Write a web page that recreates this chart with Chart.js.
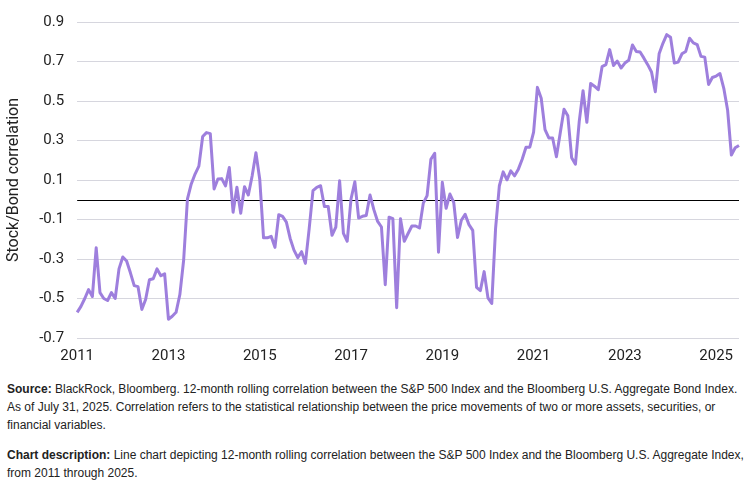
<!DOCTYPE html>
<html>
<head>
<meta charset="utf-8">
<script src="https://cdn.jsdelivr.net/npm/chart.js@4"></script>
<style>
  body { margin: 0; background: #fff; width: 756px; height: 504px; overflow: hidden; position: relative; }
  #wrap { position: absolute; left: 0; top: 0; width: 756px; height: 366px; }
  .note { position: absolute; left: 7px; width: 745px; font-family: "Liberation Sans", Arial, sans-serif;
          font-size: 12px; line-height: 18px; color: #222; white-space: nowrap; }
  .note b { font-weight: bold; }
</style>
</head>
<body>
<div id="wrap"><canvas id="myChart"></canvas></div>
<div class="note" style="top:380px"><b>Source:</b> BlackRock, Bloomberg. 12-month rolling correlation between the S&amp;P 500 Index and the Bloomberg U.S. Aggregate Bond Index.<br>As of July 31, 2025. Correlation refers to the statistical relationship between the price movements of two or more assets, securities, or<br>financial variables.</div>
<div class="note" style="top:446px"><b>Chart description:</b> Line chart depicting 12-month rolling correlation between the S&amp;P 500 Index and the Bloomberg U.S. Aggregate Index,<br>from 2011 through 2025.</div>
<script>
// monthly, Jan 2011 .. Jul 2025
const startYear = 2011;
const monthCount = 175;
const tickLabels = ["2011", "2013", "2015", "2017", "2019", "2021", "2023", "2025"];
const yTicks = [-0.7, -0.5, -0.3, -0.1, 0.1, 0.3, 0.5, 0.7, 0.9];

const correlation = [
  -0.57, -0.54, -0.50, -0.455, -0.49, -0.243, -0.47, -0.50, -0.51, -0.47, -0.50, -0.35, // 2011
  -0.29, -0.31, -0.37, -0.435, -0.44, -0.555, -0.505, -0.405, -0.40, -0.35, -0.385, -0.375, // 2012
  -0.605, -0.59, -0.57, -0.48, -0.305, 0.005, 0.08, 0.13, 0.17, 0.32, 0.34, 0.335, // 2013
  0.055, 0.105, 0.107, 0.07, 0.163, -0.063, 0.063, -0.068, 0.066, 0.024, 0.12, 0.238, // 2014
  0.104, -0.193, -0.193, -0.185, -0.241, -0.076, -0.084, -0.113, -0.196, -0.255, -0.293, -0.263, // 2015
  -0.322, -0.146, 0.046, 0.063, 0.071, -0.034, -0.034, -0.18, -0.138, 0.096, -0.17, -0.21, // 2016
  0.004, 0.091, -0.093, -0.084, -0.08, 0.024, -0.05, -0.11, -0.138, -0.43, -0.088, -0.096, // 2017
  -0.547, -0.096, -0.21, -0.171, -0.133, -0.133, -0.143, -0.017, 0.021, 0.205, 0.235, -0.266, // 2018
  0.088, -0.043, 0.029, -0.013, -0.191, -0.104, -0.074, -0.126, -0.155, -0.444, -0.46, -0.364, // 2019
  -0.497, -0.525, -0.146, 0.071, 0.141, 0.101, 0.146, 0.121, 0.155, 0.205, 0.266, 0.266, // 2020
  0.342, 0.569, 0.514, 0.355, 0.313, 0.313, 0.218, 0.338, 0.458, 0.425, 0.213, 0.18, // 2021
  0.397, 0.552, 0.392, 0.589, 0.575, 0.557, 0.674, 0.684, 0.76, 0.68, 0.702, 0.667, // 2022
  0.692, 0.706, 0.784, 0.751, 0.748, 0.717, 0.684, 0.647, 0.547, 0.739, 0.792, 0.836, // 2023
  0.823, 0.692, 0.697, 0.739, 0.751, 0.818, 0.794, 0.786, 0.726, 0.722, 0.584, 0.619, // 2024
  0.626, 0.639, 0.564, 0.455, 0.226, 0.263, 0.275 // 2025
];

const months = [];
for (let i = 0; i < monthCount; i++) {
  const y = startYear + Math.floor(i / 12);
  const m = (i % 12) + 1;
  months.push(y + "-" + String(m).padStart(2, "0"));
}

// black line at zero, under the series
const zeroLine = {
  id: "zeroLine",
  beforeDatasetsDraw(chart) {
    const { ctx, chartArea, scales } = chart;
    const y = Math.round(scales.y.getPixelForValue(0)) + 0.5;
    ctx.save();
    ctx.strokeStyle = "#000";
    ctx.lineWidth = 1;
    ctx.beginPath();
    ctx.moveTo(chartArea.left, y);
    ctx.lineTo(chartArea.right, y);
    ctx.stroke();
    ctx.restore();
  },
};

const tickFont = { family: "Roboto", size: 15 };

new Chart(document.getElementById("myChart"), {
  type: "line",
  data: {
    labels: months,
    datasets: [{
      label: "Stock/Bond correlation",
      data: correlation,
      borderColor: "#9e7fdd",
      borderWidth: 3,
      pointRadius: 0,
      tension: 0,
      borderJoinStyle: "round",
    }],
  },
  options: {
    responsive: true,
    maintainAspectRatio: false,
    animation: false,
    layout: { padding: { top: 2, right: 17, left: 4, bottom: 0 } },
    plugins: { legend: { display: false }, tooltip: { enabled: false } },
    scales: {
      x: {
        offset: false,
        grid: { display: false },
        border: { display: false },
        ticks: {
          autoSkip: false,
          maxRotation: 0,
          padding: 1,
          color: "#222",
          font: tickFont,
          callback: (v, i) => (i % 24 === 0 ? tickLabels[i / 24] : null),
        },
      },
      y: {
        min: yTicks[0],
        max: yTicks[yTicks.length - 1],
        afterBuildTicks: (scale) => { scale.ticks = yTicks.map((v) => ({ value: v })); },
        grid: { color: "#d6d6de", lineWidth: 1, drawTicks: false },
        border: { display: false },
        ticks: {
          padding: 13,
          color: "#222",
          font: tickFont,
          callback: (v) => v.toFixed(1),
        },
        title: {
          display: true,
          text: "Stock/Bond correlation",
          color: "#222",
          font: { family: "Roboto", size: 16 },
          padding: { top: 0, bottom: 3 },
        },
      },
    },
  },
  plugins: [zeroLine],
});
</script>
</body>
</html>
